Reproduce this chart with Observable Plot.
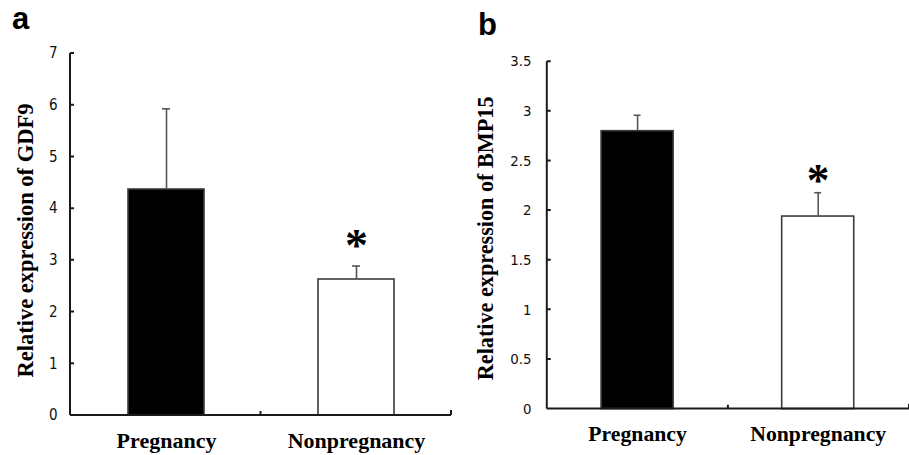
<!DOCTYPE html>
<html>
<head>
<meta charset="utf-8">
<script src="https://cdn.jsdelivr.net/npm/d3@7"></script>
<script src="https://cdn.jsdelivr.net/npm/@observablehq/plot@0.6"></script>
<style>
  html, body { margin: 0; padding: 0; background: #fff; }
  #wrap { position: relative; width: 909px; height: 455px; overflow: hidden; background: #fff; }
  .panel { position: absolute; top: 0; }
  .letter { position: absolute; font-family: "Liberation Sans", Arial, sans-serif; font-weight: bold; font-size: 31px; line-height: 1; color: #000; z-index: 2; }
</style>
</head>
<body>
<div id="wrap">
  <div class="letter" style="left:12px;top:3px;">a</div>
  <div class="letter" style="left:478px;top:9px;">b</div>
  <div id="pa" class="panel" style="left:0px;"></div>
  <div id="pb" class="panel" style="left:455px;"></div>
</div>
<script>
// ---- data ----
const categories = ["Pregnancy", "Nonpregnancy"];
const barFills = ["#000000", "#ffffff"];
const significant = [false, true];

const gdf9Mean = [4.37, 2.63];
const gdf9ErrTop = [5.93, 2.89];
const gdf9Ticks = [0, 1, 2, 3, 4, 5, 6, 7];

const bmp15Mean = [2.80, 1.94];
const bmp15ErrTop = [2.96, 2.18];
const bmp15Ticks = [0, 0.5, 1, 1.5, 2, 2.5, 3, 3.5];

const gdf9Label = "Relative expression of GDF9";
const bmp15Label = "Relative expression of BMP15";

function panel(opts) {
  const rows = categories.map((c, i) => ({
    cat: c, mean: opts.means[i], err: opts.errs[i], fill: barFills[i], sig: significant[i]
  }));
  const yMax = opts.ticks[opts.ticks.length - 1];
  const axesRender = (index, scales, values, dims) => {
    const ns = "http://www.w3.org/2000/svg";
    const g = document.createElementNS(ns, "g");
    const y0 = scales.y(0), yTop = scales.y(yMax);
    const xl = dims.marginLeft, xr = dims.width - dims.marginRight;
    const mid = (xl + xr) / 2;
    const paths = [
      `M${xl},${yTop}V${y0}`,
      `M${xl},${y0}H${xr}`,
      `M${mid},${y0}v-4`,
      `M${xr},${y0}v-5`
    ];
    for (const t of opts.ticks) {
      if (t === 0) continue;
      paths.push(`M${xl},${scales.y(t)}h4`);
    }
    const p = document.createElementNS(ns, "path");
    p.setAttribute("d", paths.join(""));
    p.setAttribute("stroke", "#1a1a1a");
    p.setAttribute("stroke-width", "2");
    p.setAttribute("fill", "none");
    g.appendChild(p);
    return g;
  };
  return Plot.plot({
    width: opts.width,
    height: 455,
    marginLeft: opts.marginLeft,
    marginRight: opts.marginRight,
    marginTop: opts.marginTop,
    marginBottom: opts.marginBottom,
    style: { background: "transparent", overflow: "visible" },
    x: { domain: categories, paddingInner: 0.6, paddingOuter: 0.3, label: null },
    y: { domain: [0, yMax], label: null },
    marks: [
      Plot.barY(rows, { x: "cat", y: "mean", fill: "fill", stroke: "#3a3a3a", strokeWidth: 1.6 }),
      Plot.ruleX(rows, { x: "cat", y1: "mean", y2: "err", stroke: "#555", strokeWidth: 1.6 }),
      Plot.tickY(rows, { x: "cat", y: "err", stroke: "#555", strokeWidth: 1.6, insetLeft: opts.capInset, insetRight: opts.capInset }),
      Plot.text(rows.filter(d => d.sig), { x: "cat", y: "err", text: () => "*", dy: opts.astDy,
        fontSize: 46, fontWeight: "bold", fontFamily: "'Liberation Serif', serif", fill: "#000" }),
      axesRender,
      Plot.axisY({ ticks: opts.ticks, tickSize: 0, tickPadding: opts.tickPad, tickFormat: d => String(d),
        fontSize: 15, fontFamily: "'Liberation Sans Narrow', 'DejaVu Sans Condensed', 'Liberation Sans', sans-serif",
        fill: "#111", label: null }),
      Plot.axisX({ tickSize: 0, tickPadding: 17, fontSize: 22, fontWeight: "bold",
        fontFamily: "'Liberation Serif', 'Times New Roman', serif", fill: "#000", label: null }),
      Plot.text([opts.label], { frameAnchor: "left", rotate: -90, dx: opts.labelDx, dy: opts.labelDy, textAnchor: "middle",
        text: d => d, fontSize: 22.5, fontWeight: "bold",
        fontFamily: "'Liberation Serif', 'Times New Roman', serif", fill: "#000" })
    ]
  });
}

document.getElementById("pa").appendChild(panel({
  means: gdf9Mean, errs: gdf9ErrTop, ticks: gdf9Ticks, label: gdf9Label,
  width: 455, marginLeft: 70, marginRight: 4, marginTop: 53, marginBottom: 40,
  tickPad: 13, labelDx: -45, labelDy: 6, capInset: 34, astDy: -20
}));
document.getElementById("pb").appendChild(panel({
  means: bmp15Mean, errs: bmp15ErrTop, ticks: bmp15Ticks, label: bmp15Label,
  width: 460, marginLeft: 93, marginRight: 0, marginTop: 62, marginBottom: 41,
  tickPad: 16, labelDx: -62, labelDy: 3, capInset: 33, astDy: -11
}));
</script>
</body>
</html>
